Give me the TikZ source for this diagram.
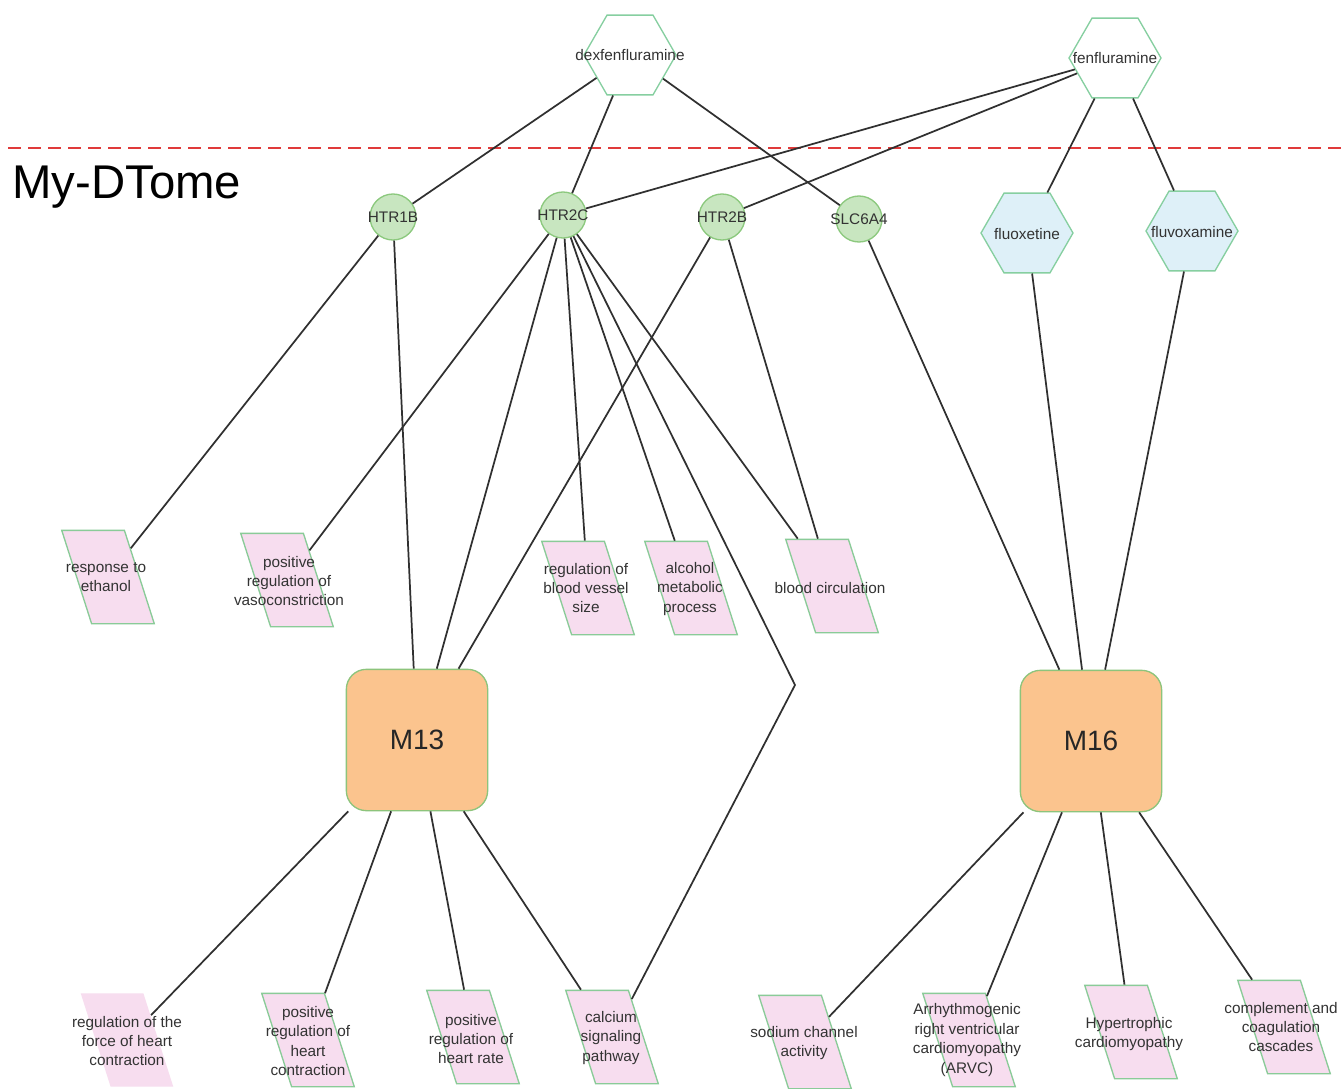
\documentclass[tikz,border=0pt]{standalone}
\usepackage{fontspec}
\setmainfont{Liberation Sans}
\usetikzlibrary{shapes.geometric}
\definecolor{edgegray}{HTML}{303030}
\definecolor{textgray}{HTML}{333333}
\definecolor{hexline}{HTML}{86CFA0}
\definecolor{genefill}{HTML}{C8E6C0}
\definecolor{geneline}{HTML}{8CC97E}
\definecolor{drugfill}{HTML}{DEF0F8}
\definecolor{termfill}{HTML}{F7DDEF}
\definecolor{termline}{HTML}{8ACB98}
\definecolor{modfill}{HTML}{FBC48E}
\definecolor{modline}{HTML}{8DC47C}
\definecolor{cutred}{HTML}{E03A3A}

\begin{document}
\begin{tikzpicture}[x=0.75pt,y=-0.75pt,
  lbl/.style={font=\fontsize{11.5}{14.6}\selectfont, text=textgray, align=center, inner sep=0pt},
  drug/.style={regular polygon, regular polygon sides=6, minimum size=69pt, inner sep=0pt, draw=hexline, line width=1pt, fill=white},
  gene/.style={circle, minimum size=34.5pt, inner sep=0pt, draw=geneline, line width=1pt, fill=genefill},
  term/.style={rectangle, xslant=-0.32, transform shape, minimum width=47pt, minimum height=70pt, inner sep=0pt, draw=termline, line width=1pt, fill=termfill},
  module/.style={rectangle, rounded corners=15pt, minimum size=106pt, draw=modline, line width=1pt, fill=modfill, font=\fontsize{21}{25}\selectfont, text=black!85},
  link/.style={draw=edgegray, line width=1.3pt}
]
\clip (0,0) rectangle (1341,1088);
\fill[white] (0,0) rectangle (1341,1088);

% separator between drug layer and the My-DTome network
\draw[cutred, dash pattern=on 9.75pt off 5.25pt, line width=1.2pt] (8,148) -- (1341,148);
\node[anchor=base west, inner sep=0pt, font=\fontsize{35.5}{40}\selectfont] (title) at (12,198) {My-DTome};

% drugs
\node[drug] (dexfen) at (630,55) {};
\node[drug] (fenflu) at (1115,58) {};
\node[drug, fill=drugfill] (fluox) at (1027,233) {};
\node[drug, fill=drugfill] (fluvox) at (1192,231) {};

% target genes
\node[gene] (htr1b) at (393,217) {};
\node[gene] (htr2c) at (563,215) {};
\node[gene] (htr2b) at (722,217) {};
\node[gene] (slc6a4) at (859,219) {};

% modules
\node[module] (m13) at (417,740) {M13};
\node[module] (m16) at (1091,741) {M16};

% functional terms (slanted boxes)
\node[term] (ethanol) at (108,577) {};
\node[term] (vasocon) at (287,580) {};
\node[term] (vessel) at (588,588) {};
\node[term] (alcohol) at (691,588) {};
\node[term] (bloodcirc) at (832,586) {};
\node[term, draw=none] (force) at (127,1040) {};
\node[term] (heartcon) at (308,1040) {};
\node[term] (heartrate) at (473,1037) {};
\node[term] (calcium) at (612,1037) {};
\node[term] (sodium) at (805,1042) {};
\node[term] (arvc) at (969,1040) {};
\node[term] (hypertro) at (1131,1032) {};
\node[term] (complement) at (1284,1027) {};

\coordinate (bend) at (795,685);

% connectors
\draw[link] (dexfen) -- (htr1b);
\draw[link] (dexfen) -- (htr2c);
\draw[link] (dexfen) -- (slc6a4);
\draw[link] (fenflu) -- (htr2c);
\draw[link] (fenflu) -- (htr2b);
\draw[link] (fenflu) -- (fluox);
\draw[link] (fenflu) -- (fluvox);
\draw[link] (htr1b) -- (ethanol);
\draw[link] (htr1b) -- (m13);
\draw[link] (htr2c) -- (vasocon);
\draw[link] (htr2c) -- (m13);
\draw[link] (htr2c) -- (vessel);
\draw[link] (htr2c) -- (alcohol);
\draw[link] (htr2c) -- (bloodcirc);
\draw[link] (htr2c) -- (bend) -- (calcium);
\draw[link] (htr2b) -- (m13);
\draw[link] (htr2b) -- (bloodcirc);
\draw[link] (slc6a4) -- (m16);
\draw[link] (fluox) -- (m16);
\draw[link] (fluvox) -- (m16);
\draw[link] (m13) -- (force);
\draw[link] (m13) -- (heartcon);
\draw[link] (m13) -- (heartrate);
\draw[link] (m13) -- (calcium);
\draw[link] (m16) -- (sodium);
\draw[link] (m16) -- (arvc);
\draw[link] (m16) -- (hypertro);
\draw[link] (m16) -- (complement);

% labels
\node[lbl] (dexfen-text) at (630,55) {dexfenfluramine};
\node[lbl] (fenflu-text) at (1115,58) {fenfluramine};
\node[lbl] (fluox-text) at (1027,234) {fluoxetine};
\node[lbl] (fluvox-text) at (1192,232) {fluvoxamine};
\node[lbl] (htr1b-text) at (393,217) {HTR1B};
\node[lbl] (htr2c-text) at (563,215) {HTR2C};
\node[lbl] (htr2b-text) at (722,217) {HTR2B};
\node[lbl] (slc6a4-text) at (859,219) {SLC6A4};
\node[lbl] (ethanol-text) at (106,577) {response to\\ethanol};
\node[lbl] (vasocon-text) at (289,581) {positive\\regulation of\\vasoconstriction};
\node[lbl] (vessel-text) at (586,588) {regulation of\\blood vessel\\size};
\node[lbl] (alcohol-text) at (690,589) {alcohol\\metabolic\\process};
\node[lbl] (bloodcirc-text) at (830,588) {blood circulation};
\node[lbl] (force-text) at (127,1041) {regulation of the\\force of heart\\contraction};
\node[lbl] (heartcon-text) at (308,1041) {positive\\regulation of\\heart\\contraction};
\node[lbl] (heartrate-text) at (471,1039) {positive\\regulation of\\heart rate};
\node[lbl] (calcium-text) at (611,1038) {calcium\\signaling\\pathway};
\node[lbl] (sodium-text) at (804,1043) {sodium channel\\activity};
\node[lbl] (arvc-text) at (967,1040) {Arrhythmogenic\\right ventricular\\cardiomyopathy\\(ARVC)};
\node[lbl] (hypertro-text) at (1129,1034) {Hypertrophic\\cardiomyopathy};
\node[lbl] (complement-text) at (1281,1027) {complement and\\coagulation\\cascades};
\end{tikzpicture}
\end{document}
